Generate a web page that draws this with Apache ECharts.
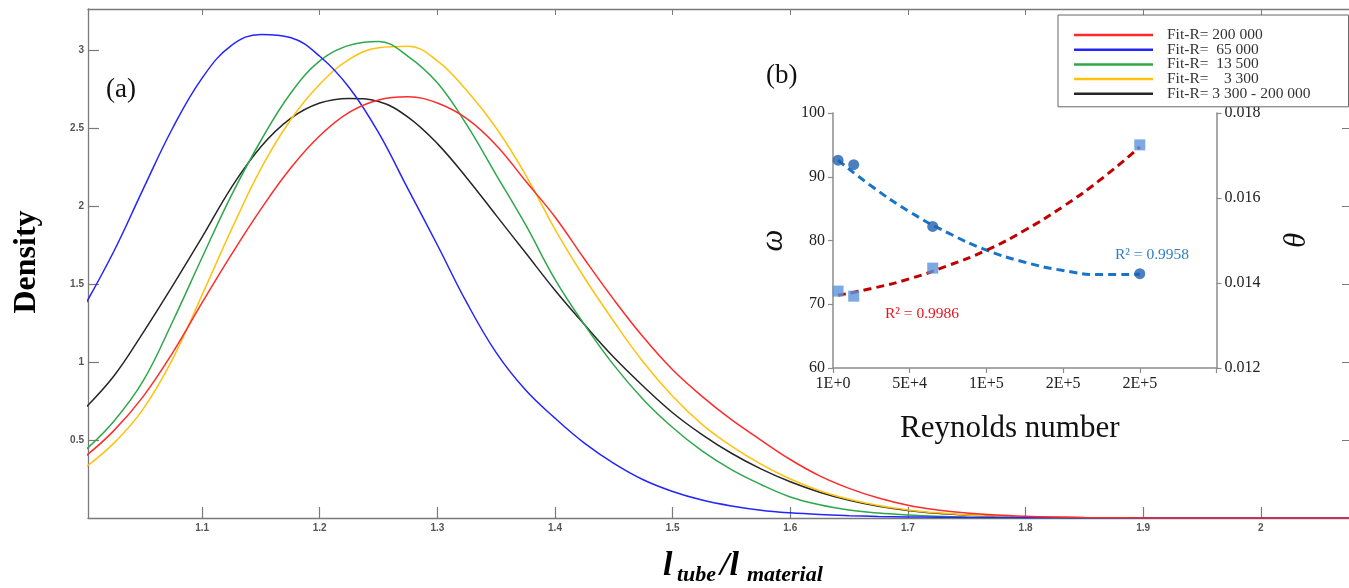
<!DOCTYPE html>
<html>
<head>
<meta charset="utf-8">
<script src="https://cdn.jsdelivr.net/npm/echarts@6/dist/echarts.min.js"></script>
<style>
html,body{margin:0;padding:0;background:#fff;}
#chart{width:1349px;height:588px;}
</style>
</head>
<body>
<div id="chart"></div>
<script>
// ---- Panel (a): density curves ----
const xs = [1.00,1.025,1.05,1.075,1.10,1.125,1.15,1.175,1.20,1.225,1.25,1.275,1.30,1.325,1.35,1.375,1.40,1.425,1.45,1.475,1.50,1.525,1.55,1.575,1.60,1.625,1.65,1.675,1.70,1.725,1.75,1.775,1.80,1.825,1.85,1.875,1.90,1.925,1.95,1.975,2.00,2.025,2.05,2.075];
const densR200000 = [0.39,0.56,0.78,1.06,1.38,1.69,1.98,2.24,2.45,2.60, 2.68,2.70,2.66,2.56,2.39,2.16, 1.93,1.66,1.40,1.16,0.95,0.78,0.63,0.50,0.375,0.27, 0.19,0.128,0.082,0.052,0.032,0.019,0.011,0.006,0.003,0.0015, 0,0,0,0,0,0,0,0];
const densR65000  = [1.36,1.71,2.11,2.50,2.82,3.03,3.10,3.08,2.96,2.76, 2.47,2.11,1.75,1.38,1.06,0.82,0.64,0.48,0.35,0.245, 0.17,0.115,0.077,0.05,0.033,0.022,0.015,0.01,0.007,0.005, 0.004,0.003,0.002,0.001,0,0,0,0,0,0, 0,0,0,0];
const densR13500  = [0.43,0.62,0.88,1.26,1.67,2.07,2.42,2.72,2.93,3.03, 3.055,2.96,2.79,2.52,2.20,1.88,1.53,1.24,0.98,0.76, 0.58,0.43,0.31,0.215,0.135,0.085,0.052,0.032,0.02,0.012, 0.007,0.004,0.002,0.001,0,0,0,0,0,0, 0,0,0,0];
const densR3300   = [0.32,0.48,0.70,1.02,1.43,1.85,2.24,2.55,2.78,2.94, 3.015,3.025,2.93,2.74,2.50,2.20,1.85,1.54,1.26,1.00, 0.78,0.60,0.46,0.345,0.25,0.175,0.12,0.08,0.052,0.033, 0.02,0.012,0.007,0.004,0.002,0.001,0,0,0,0, 0,0,0,0];
const densAll     = [0.70,0.91,1.19,1.49,1.80,2.12,2.38,2.56,2.66,2.69, 2.67,2.57,2.40,2.18,1.94,1.70,1.46,1.24,1.03,0.845, 0.675,0.535,0.415,0.315,0.232,0.165,0.113,0.075,0.048,0.03, 0.019,0.012,0.007,0.004,0.002,0.001,0,0,0,0, 0,0,0,0];
const seriesNames = ['Fit-R= 200 000','Fit-R=  65 000','Fit-R=  13 500','Fit-R=    3 300','Fit-R= 3 300 - 200 000'];
const xTicksA = [1.1,1.2,1.3,1.4,1.5,1.6,1.7,1.8,1.9,2.0];
const yTicksA = [0.5,1,1.5,2,2.5,3];

// ---- Panel (b): inset ----
const reynolds = [3300,13500,65000,200000];
const omega = [92.6,91.9,82.2,74.8];
const theta = [0.01381,0.01369,0.01435,0.01725];
const fitRe = [3300,25000,50000,75000,100000,125000,150000,175000,200000];
const omegaFit = [92.6,88.55,84.5,81.2,78.5,76.6,75.3,74.65,74.7];
const thetaFit = [0.01371,0.01387,0.01410,0.01441,0.01477,0.01524,0.01580,0.01645,0.01720];
const insetXLabels = ['1E+0','5E+4','1E+5','2E+5','2E+5',''];

const colors = ['#ff2b2b','#2424ff','#2ea84a','#ffc20e','#262626'];
const densSets = [densR200000,densR65000,densR13500,densR3300,densAll];

const pair = (a,b)=>a.map((v,i)=>[v,b[i]]);
const serif = '"Liberation Serif","Times New Roman",serif';

const mainSeries = densSets.map((d,i)=>({
  name: seriesNames[i], type:'line', xAxisIndex:0, yAxisIndex:0,
  data: pair(xs,d), smooth:0.4, showSymbol:false, symbol:'none',
  lineStyle:{color:colors[i], width:1.5}, itemStyle:{color:colors[i]},
  z: 5 - i, clip:true
}));

const axisGray = '#7a7a7a';
const option = {
  animation:false,
  backgroundColor:'#fff',
  grid:[
    {left:88, top:9, right:0, bottom:70, outerBoundsMode:'none', containLabel:false},
    {left:833, top:113, width:383.5, height:255, outerBoundsMode:'none', containLabel:false}
  ],
  xAxis:[
    {type:'value', gridIndex:0, min:1.003, max:2.075, position:'bottom',
     axisLine:{show:true,onZero:false,lineStyle:{color:axisGray,width:1.3}},
     axisTick:{show:true,inside:true,length:11,customValues:xTicksA,lineStyle:{color:axisGray,width:1.2}},
     axisLabel:{show:true,customValues:xTicksA,margin:5,fontSize:10,fontWeight:'bold',color:'#555',fontFamily:'"Liberation Sans",Arial,sans-serif',formatter:v=>String(+v.toFixed(1))},
     splitLine:{show:false}},
    {type:'value', gridIndex:0, min:1.003, max:2.075, position:'top',
     axisLine:{show:true,onZero:false,lineStyle:{color:axisGray,width:1.3}},
     axisTick:{show:true,inside:true,length:6,customValues:xTicksA,lineStyle:{color:axisGray}},
     axisLabel:{show:false}, splitLine:{show:false}},
    {type:'value', gridIndex:1, min:0, max:250000, interval:50000, position:'bottom',
     name:'Reynolds number', nameLocation:'middle', nameGap:45,
     nameTextStyle:{fontFamily:serif,fontSize:31,color:'#111',padding:[0,30,0,0]},
     axisLine:{show:true,onZero:false,lineStyle:{color:'#8c8c8c',width:1.5}},
     axisTick:{show:true,inside:false,length:5,lineStyle:{color:'#8c8c8c',width:1.2}},
     axisLabel:{margin:8,fontFamily:serif,fontSize:16,color:'#222',formatter:v=>insetXLabels[Math.round(v/50000)]},
     splitLine:{show:false}}
  ],
  yAxis:[
    {type:'value', gridIndex:0, min:0, max:3.263, position:'left',
     axisLine:{show:true,onZero:false,lineStyle:{color:axisGray,width:1.3}},
     axisTick:{show:true,inside:true,length:11,customValues:yTicksA,lineStyle:{color:axisGray,width:1.2}},
     axisLabel:{show:true,customValues:yTicksA,margin:4,fontSize:10,fontWeight:'bold',color:'#555',fontFamily:'"Liberation Sans",Arial,sans-serif'},
     splitLine:{show:false}},
    {type:'value', gridIndex:0, min:0, max:3.263, position:'right',
     axisLine:{show:false,onZero:false,lineStyle:{color:axisGray,width:1.3}},
     axisTick:{show:true,inside:true,length:7,customValues:yTicksA,lineStyle:{color:axisGray}},
     axisLabel:{show:false}, splitLine:{show:false}},
    {type:'value', gridIndex:1, min:60, max:100, interval:10, position:'left',
     name:'ω', nameLocation:'middle', nameGap:44, nameRotate:90,
     nameTextStyle:{fontFamily:serif,fontSize:31,fontStyle:'italic',color:'#111'},
     axisLine:{show:true,onZero:false,lineStyle:{color:'#8c8c8c',width:1.5}},
     axisTick:{show:true,inside:false,length:5,lineStyle:{color:'#8c8c8c',width:1.2}},
     axisLabel:{margin:8,fontFamily:serif,fontSize:16,color:'#222'},
     splitLine:{show:false}},
    {type:'value', gridIndex:1, min:0.012, max:0.018, interval:0.002, position:'right',
     name:'θ', nameLocation:'middle', nameGap:65, nameRotate:90,
     nameTextStyle:{fontFamily:serif,fontSize:31,fontStyle:'italic',color:'#111'},
     axisLine:{show:true,onZero:false,lineStyle:{color:'#8c8c8c',width:1.5}},
     axisTick:{show:true,inside:false,length:5,lineStyle:{color:'#8c8c8c',width:1.2}},
     axisLabel:{margin:8,fontFamily:serif,fontSize:16,color:'#222',formatter:v=>v.toFixed(3)},
     splitLine:{show:false}}
  ],
  legend:{
    data:seriesNames, orient:'vertical', left:1058, top:15,
    icon:'rect', itemWidth:79, itemHeight:2.5, itemGap:-1.3,
    padding:[12,38,5,16], backgroundColor:'#fff',
    borderColor:'#666', borderWidth:1, borderRadius:0,
    textStyle:{fontFamily:serif,fontSize:15.5,color:'#333',padding:[0,0,0,9]}
  },
  series:[
    ...mainSeries,
    {name:'omegaFit', type:'line', xAxisIndex:2, yAxisIndex:2, data:pair(fitRe,omegaFit), smooth:true, showSymbol:false, symbol:'none',
     lineStyle:{color:'#1874c8', width:3, type:[8,5]}, z:6},
    {name:'thetaFit', type:'line', xAxisIndex:2, yAxisIndex:3, data:pair(fitRe,thetaFit), smooth:true, showSymbol:false, symbol:'none',
     lineStyle:{color:'#c00000', width:3, type:[8,5]}, z:6},
    {name:'omegaPts', type:'scatter', xAxisIndex:2, yAxisIndex:2, data:pair(reynolds,omega), symbol:'circle', symbolSize:11,
     itemStyle:{color:'#1f5fb0'}, z:8},
    {name:'thetaPts', type:'scatter', xAxisIndex:2, yAxisIndex:3, data:pair(reynolds,theta), symbol:'rect', symbolSize:11,
     itemStyle:{color:'#5b94dc'}, z:8}
  ],
  graphic:[
    {type:'text', left:106, top:76, style:{text:'(a)', font:'27px '+serif, fill:'#111'}},
    {type:'text', left:766, top:62, style:{text:'(b)', font:'27px '+serif, fill:'#111'}},
    {type:'text', x:27, y:262, rotation:Math.PI/2, style:{text:'Density', font:'bold 32px '+serif, fill:'#000', align:'center', verticalAlign:'middle'}},
    {type:'text', x:663, y:549, style:{text:'l', font:'italic bold 34px '+serif, fill:'#000', verticalAlign:'top'}},
    {type:'text', x:677, y:564, style:{text:'tube', font:'italic bold 22px '+serif, fill:'#000', verticalAlign:'top'}},
    {type:'text', x:720, y:549, style:{text:'/l', font:'italic bold 34px '+serif, fill:'#000', verticalAlign:'top'}},
    {type:'text', x:747, y:564, style:{text:'material', font:'italic bold 22px '+serif, fill:'#000', verticalAlign:'top'}},
    {type:'text', left:1115, top:247, style:{text:'R² = 0.9958', font:'15.5px '+serif, fill:'#2e7fc7'}},
    {type:'text', left:885, top:306, style:{text:'R² = 0.9986', font:'15.5px '+serif, fill:'#e8141c'}}
  ]
};
const chart = echarts.init(document.getElementById('chart'), null, {renderer:'canvas'});
chart.setOption(option);
</script>
</body>
</html>
